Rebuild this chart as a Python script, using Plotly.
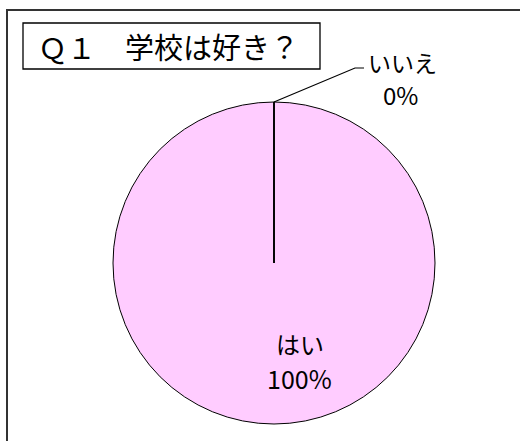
import math
import plotly.graph_objects as go

labels = ["はい", "いいえ"]
values = [100, 0]
title_text = "Ｑ１　学校は好き？"
colors = ["#FFCCFF", "#CCFFFF"]

W, H = 520, 441
cx, cy, r = 274, 263, 161  # pixel geometry of the pie (layout)

def px(x):
    return x / W

def py(y):
    return 1 - y / H

fig = go.Figure()
fig.add_trace(go.Pie(
    labels=labels, values=values, sort=False, direction="clockwise", rotation=0,
    marker=dict(colors=colors, line=dict(color="black", width=1)),
    textinfo="none", hoverinfo="label+percent", showlegend=False,
    domain=dict(x=[px(cx - r), px(cx + r)], y=[py(cy + r), py(cy - r)]),
))

total = sum(values)
pct = [round(v * 100 / total) for v in values]

shapes = []
# slice boundary lines (from data: cumulative fractions, starting at top, clockwise)
cum = 0
for v in values:
    ang = math.pi / 2 - 2 * math.pi * cum / total
    x1 = cx + r * math.cos(ang)
    y1 = cy - r * math.sin(ang)
    shapes.append(dict(type="line", xref="paper", yref="paper",
                       x0=px(cx), y0=py(cy), x1=px(x1), y1=py(y1),
                       line=dict(color="black", width=1.3)))
    cum += v
# outer frame
shapes.append(dict(type="rect", xref="paper", yref="paper",
                   x0=px(7), y0=py(460), x1=px(540), y1=py(10),
                   line=dict(color="#333333", width=2)))
# title box
shapes.append(dict(type="rect", xref="paper", yref="paper",
                   x0=px(23), y0=py(69), x1=px(320), y1=py(23),
                   line=dict(color="black", width=1.3)))
# leader line for small slice
mid_ang = math.pi / 2 - 2 * math.pi * (values[0] + values[1] / 2) / total
lx = cx + r * math.cos(mid_ang)
ly = cy - r * math.sin(mid_ang)
shapes.append(dict(type="path", xref="paper", yref="paper",
                   path=f"M {px(lx)} {py(ly)} L {px(355)} {py(68)} L {px(364)} {py(68)}",
                   line=dict(color="black", width=1.2)))

font = "Noto Sans CJK JP"

def ann(x, y, text, size):
    return dict(x=px(x), y=py(y), xref="paper", yref="paper", text=text,
                xanchor="center", yanchor="middle", showarrow=False,
                font=dict(family=font, size=size, color="black"))

annotations = [
    ann(168, 46, title_text, 29),
    ann(300, 343, labels[0], 24),
    ann(299, 378, f"{pct[0]}%", 25),
    ann(402, 62, labels[1], 23),
    ann(400, 95, f"{pct[1]}%", 24),
]

fig.update_layout(
    width=W, height=H, margin=dict(l=0, r=0, t=0, b=0),
    paper_bgcolor="white", plot_bgcolor="white",
    shapes=shapes, annotations=annotations,
)
fig.write_html("out.html", config={"displayModeBar": False},
               post_script="document.body.style.margin='0';")
